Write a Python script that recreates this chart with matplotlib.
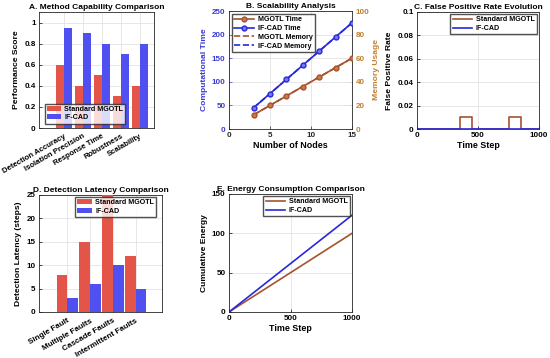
import matplotlib
matplotlib.use("Agg")
import matplotlib.pyplot as plt
import numpy as np

plt.rcParams['font.family'] = ['Liberation Sans', 'DejaVu Sans']
plt.rcParams['font.weight'] = 'bold'
plt.rcParams['axes.labelweight'] = 'bold'
plt.rcParams['axes.titleweight'] = 'bold'

# Panel A
capabilities = ['Detection Accuracy', 'Isolation Precision', 'Response Time', 'Robustness', 'Scalability']
cap_mgotl = [0.6, 0.4, 0.5, 0.3, 0.4]
cap_ifcad = [0.95, 0.9, 0.8, 0.7, 0.8]

# Panel B
nodes = [3, 5, 7, 9, 11, 13, 15]
time_mgotl = [30, 50, 70, 90, 110, 130, 150]
time_ifcad = [45, 75, 105, 135, 165, 195, 225]
mem_mgotl = [12, 20, 28, 36, 44, 52, 60]
mem_ifcad = [18, 30, 42, 54, 66, 78, 90]

# Panel C
fp_steps = [0, 350, 350, 450, 450, 750, 750, 850, 850, 1000]
fp_mgotl = [0, 0, 0.01, 0.01, 0, 0, 0.01, 0.01, 0, 0]
fp_steps_ifcad = [0, 1000]
fp_ifcad = [0, 0]

# Panel D
faults = ['Single Fault', 'Multiple Faults', 'Cascade Faults', 'Intermittent Faults']
lat_mgotl = [8, 15, 25, 12]
lat_ifcad = [3, 6, 10, 5]

# Panel E
energy_steps = [0, 1000]
energy_mgotl = [0, 100]
energy_ifcad = [0, 123]

RED = '#e25548'
BLUE = '#5050f0'
BROWN = '#a5522d'
LBLUE = '#2828dc'
TICK = 5.8
XTICK_A = 5.6
LAB = 6.1
TFS = 6.0
LEG = 5.1

fig = plt.figure(figsize=(5.5, 3.58), dpi=100)
W, H = 550, 358
def ax_at(l, t, r, b):
    return fig.add_axes([l / W, 1 - b / H, (r - l) / W, (b - t) / H])

def style(ax):
    ax.grid(True, color='#e3e3e3', linewidth=0.6)
    ax.set_axisbelow(True)
    for s in ax.spines.values():
        s.set_color('#262626')
        s.set_linewidth(0.6)
    ax.tick_params(labelsize=TICK, length=2, width=0.5, direction='in', pad=2.5)
    for lab in ax.get_xticklabels() + ax.get_yticklabels():
        lab.set_fontweight('bold')

def legend(ax, handlelength=2.8, **kw):
    return ax.legend(fontsize=LEG, frameon=True, fancybox=False, edgecolor='#262626',
                     borderpad=0.3, labelspacing=0.25, handlelength=handlelength,
                     handletextpad=0.5, borderaxespad=0.3, **kw)

# A
ax = ax_at(39, 12, 154, 128)
x = np.arange(1, len(capabilities) + 1)
w = 0.42
ax.bar(x - w / 2, cap_mgotl, w, color=RED, label='Standard MGOTL', zorder=3)
ax.bar(x + w / 2, cap_ifcad, w, color=BLUE, label='IF-CAD', zorder=3)
ax.set_xlim(-0.3, 5.74)
ax.set_ylim(0, 1.1)
ax.set_yticks([0, 0.2, 0.4, 0.6, 0.8, 1])
ax.set_yticklabels(['0', '0.2', '0.4', '0.6', '0.8', '1'])
ax.set_xticks(x)
ax.set_xticklabels(capabilities, rotation=30, ha='right', va='top', rotation_mode='anchor')
ax.set_ylabel('Performance Score', fontsize=LAB, labelpad=3)
ax.set_title('A. Method Capability Comparison', fontsize=TFS, pad=2)
style(ax)
ax.tick_params(axis='x', pad=3.5, labelsize=XTICK_A)
legend(ax, handlelength=2.0, loc='lower left', bbox_to_anchor=(0.03, 0.02))

# B
ax = ax_at(229, 11, 352, 129)
ax2 = ax.twinx()
ax2.plot(nodes, mem_mgotl, '--', color=BROWN, lw=1.2, label='MGOTL Memory')
ax2.plot(nodes, mem_ifcad, '--', color=LBLUE, lw=1.2, label='IF-CAD Memory')
ax.set_zorder(ax2.get_zorder() + 1)
ax.patch.set_visible(False)
ax.plot(nodes, time_mgotl, '-o', color=BROWN, mfc='#c97a4a', mec=BROWN, ms=3.5, lw=1.2, label='MGOTL Time', zorder=4)
ax.plot(nodes, time_ifcad, '-o', color=LBLUE, mfc='#7878ee', mec=LBLUE, ms=3.5, lw=1.2, label='IF-CAD Time', zorder=4)
ax.set_xlim(0, 15)
ax.set_ylim(0, 250)
ax2.set_ylim(0, 100)
ax.set_xticks([0, 5, 10, 15])
ax.set_xlabel('Number of Nodes', fontsize=LAB + 0.3, labelpad=1)
ax.set_ylabel('Computational Time', fontsize=LAB, color='#3a3ad0', labelpad=3)
ax2.set_ylabel('Memory Usage', fontsize=LAB, color='#c08030', labelpad=3)
ax.set_title('B. Scalability Analysis', fontsize=TFS, pad=2)
style(ax)
ax2.tick_params(labelsize=TICK, length=2, width=0.5, direction='in', pad=2.5, colors='#c08030')
ax.tick_params(axis='y', colors='#3a3ad0')
ax.tick_params(axis='x', colors='#262626')
for lab in ax2.get_yticklabels():
    lab.set_fontweight('bold')
for s in ax2.spines.values():
    s.set_visible(False)
h1, l1 = ax.get_legend_handles_labels()
h2, l2 = ax2.get_legend_handles_labels()
legend(ax, handles=h1 + h2, labels=l1 + l2, loc='upper left', bbox_to_anchor=(0.01, 0.99))

# C
ax = ax_at(417, 12, 539, 129)
ax.plot(fp_steps, fp_mgotl, color=BROWN, lw=1.2, label='Standard MGOTL')
ax.plot(fp_steps_ifcad, fp_ifcad, color=LBLUE, lw=1.2, label='IF-CAD')
ax.set_xlim(0, 1000)
ax.set_ylim(0, 0.1)
ax.set_xticks([0, 500, 1000])
ax.set_yticks([0, 0.02, 0.04, 0.06, 0.08, 0.1])
ax.set_yticklabels(['0', '0.02', '0.04', '0.06', '0.08', '0.1'])
ax.set_xlabel('Time Step', fontsize=LAB + 0.3, labelpad=1)
ax.set_ylabel('False Positive Rate', fontsize=LAB, labelpad=3)
ax.set_title('C. False Positive Rate Evolution', fontsize=TFS, pad=2)
style(ax)
legend(ax, loc='upper right')

# D
ax = ax_at(39, 195, 162, 312)
x = np.arange(1, len(faults) + 1)
w = 0.47
ax.bar(x - w / 2, lat_mgotl, w, color=RED, label='Standard MGOTL', zorder=3)
ax.bar(x + w / 2, lat_ifcad, w, color=BLUE, label='IF-CAD', zorder=3)
ax.set_xlim(-0.24, 5.16)
ax.set_ylim(0, 25)
ax.set_xticks(x)
ax.set_xticklabels(faults, rotation=30, ha='right', va='top', rotation_mode='anchor')
ax.set_ylabel('Detection Latency (steps)', fontsize=LAB, labelpad=3)
ax.set_title('D. Detection Latency Comparison', fontsize=TFS, pad=2)
style(ax)
ax.tick_params(axis='x', pad=4)
legend(ax, handlelength=2.0, loc='upper right', bbox_to_anchor=(0.97, 1.0))

# E
ax = ax_at(229, 194, 352, 312)
ax.plot(energy_steps, energy_mgotl, color=BROWN, lw=1.2, label='Standard MGOTL')
ax.plot(energy_steps, energy_ifcad, color=LBLUE, lw=1.2, label='IF-CAD')
ax.set_xlim(0, 1000)
ax.set_ylim(0, 150)
ax.set_xticks([0, 500, 1000])
ax.set_yticks([0, 50, 100, 150])
ax.set_xlabel('Time Step', fontsize=LAB + 0.3, labelpad=1)
ax.set_ylabel('Cumulative Energy', fontsize=LAB, labelpad=3)
ax.set_title('E. Energy Consumption Comparison', fontsize=TFS, pad=2)
style(ax)
legend(ax, loc='upper right')

fig.savefig('out.png', dpi=100)
